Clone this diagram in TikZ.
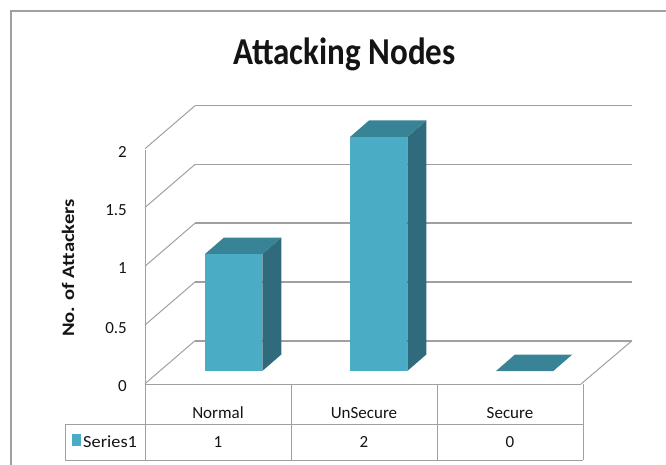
\documentclass[tikz,border=0pt]{standalone}
\usepackage{fontspec}
\setmainfont{Carlito}
\definecolor{barfront}{RGB}{75,172,198}
\definecolor{barside}{RGB}{47,107,125}
\definecolor{bartop}{RGB}{56,131,150}
\definecolor{gridc}{RGB}{160,160,160}
\definecolor{framec}{RGB}{160,160,160}
\definecolor{txt}{RGB}{20,20,20}
\begin{document}
\begin{tikzpicture}[x=1pt,y=-1pt,
  grid/.style={draw=gridc,line width=1.6pt},
  side/.style={draw=gridc,line width=1pt},
  tbl/.style={draw=framec,line width=1pt},
  lbl/.style={font=\fontsize{17}{17}\selectfont,text=txt,inner sep=0pt},
  tick/.style={lbl,anchor=east},
  front/.style={fill=barfront},
  sideface/.style={fill=barside},
  topface/.style={fill=bartop}]
\useasboundingbox (0,0) rectangle (666,465);
% frame
\draw[draw=framec,line width=1.2pt] (11,465) -- (11,11) -- (666,11);
% title
\node[font=\fontsize{38}{38}\selectfont\bfseries,text=txt,inner sep=0pt,anchor=base] (title) at (344.5,64.3) {\scalebox{0.87}[1]{Attacking Nodes}};
% walls: back gridlines and side diagonals
\foreach \v in {0,1,2,3,4}{
  \pgfmathsetmacro{\yb}{340.7-58.75*\v}
  \draw[grid] (195,\yb) -- (632,\yb);
  \draw[side] (195,\yb) -- (145,\yb+43);
}
\draw[side] (145,150) -- (145,384);
% floor
\draw[side] (632,340.7) -- (581,384);
\draw[side] (145,384) -- (581,384);
% bars
\foreach \xl/\ht in {205/117, 350/234}{
  \pgfmathsetmacro{\xr}{\xl+57.3}
  \pgfmathsetmacro{\yt}{371-\ht}
  \fill[sideface] (\xr,371) -- (\xr+19,354.5) -- (\xr+19,\yt-16.5) -- (\xr,\yt) -- cycle;
  \fill[topface] (\xl,\yt) -- (\xr,\yt) -- (\xr+19,\yt-16.5) -- (\xl+19,\yt-16.5) -- cycle;
  \fill[front] (\xl,\yt) rectangle (\xr,371);
}
\fill[topface] (496,371) -- (553.3,371) -- (572.3,354.5) -- (515,354.5) -- cycle;
% tick labels
\node[tick] (t0) at (127,386.5) {0};
\node[tick] (t1) at (127,328) {0.5};
\node[tick] (t2) at (127,268) {1};
\node[tick] (t3) at (127,210) {1.5};
\node[tick] (t4) at (127,152) {2};
% axis title
\node[lbl,font=\fontsize{17.5}{17.5}\selectfont\bfseries,rotate=90] (ytitle) at (68,268) {\scalebox{1.18}[1]{No. of Attackers}};
% data table
\draw[tbl] (65,424.5) -- (583,424.5);
\draw[tbl] (65,460) -- (583,460);
\draw[tbl] (65,424.5) -- (65,460);
\foreach \x in {145,291,437,583}{\draw[tbl] (\x,384) -- (\x,460);}
\node[lbl,anchor=base] (c1) at (218,418) {Normal};
\node[lbl,anchor=base] (c2) at (364,418) {UnSecure};
\node[lbl,anchor=base] (c3) at (510,418) {Secure};
\fill[barfront] (71.7,434) rectangle (81,446);
\node[lbl,anchor=base west] (ser) at (83,447) {\scalebox{1.08}[1]{Series1}};
\node[lbl,anchor=base] (v1) at (218,447) {1};
\node[lbl,anchor=base] (v2) at (364,447) {2};
\node[lbl,anchor=base] (v3) at (510,447) {0};
\end{tikzpicture}
\end{document}
